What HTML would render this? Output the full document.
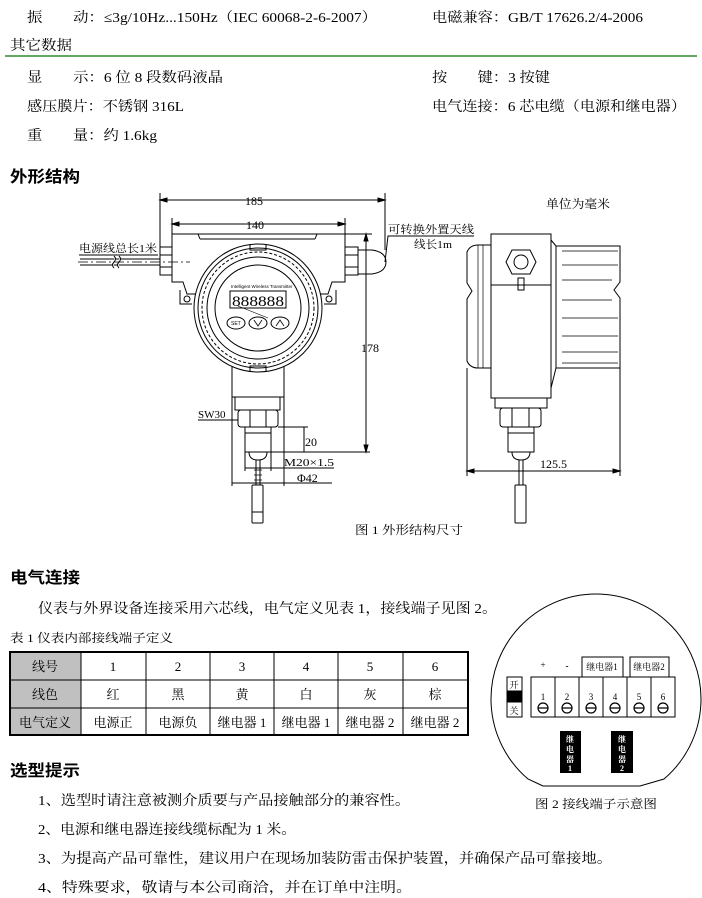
<!DOCTYPE html>
<html><head><meta charset="utf-8">
<style>
html,body{margin:0;padding:0;background:#fff;}
svg{display:block}
text{font-family:"Liberation Serif","Noto Serif CJK SC","Noto Sans CJK SC",serif;fill:#000;}
.s{font-family:"Liberation Sans","Noto Sans CJK SC",sans-serif;}
</style></head><body>
<svg width="702" height="898" viewBox="0 0 702 898" xmlns="http://www.w3.org/2000/svg">
<g font-size="14">
<text x="27" y="22" textLength="350" lengthAdjust="spacingAndGlyphs">振　　动：≤3g/10Hz...150Hz（IEC 60068-2-6-2007）</text>
<text x="432" y="22" textLength="211" lengthAdjust="spacingAndGlyphs">电磁兼容：GB/T 17626.2/4-2006</text>
<text x="10" y="50" textLength="62" lengthAdjust="spacingAndGlyphs">其它数据</text>
<text x="27" y="82" textLength="196" lengthAdjust="spacingAndGlyphs">显　　示：6 位 8 段数码液晶</text>
<text x="432" y="82" textLength="118" lengthAdjust="spacingAndGlyphs">按　　键：3 按键</text>
<text x="27" y="111" textLength="157" lengthAdjust="spacingAndGlyphs">感压膜片：不锈钢 316L</text>
<text x="432" y="111" textLength="254" lengthAdjust="spacingAndGlyphs">电气连接：6 芯电缆（电源和继电器）</text>
<text x="27" y="140" textLength="130" lengthAdjust="spacingAndGlyphs">重　　量：约 1.6kg</text>
</g>
<line x1="5" y1="56" x2="697" y2="56" stroke="#2e8b2e" stroke-width="1.5"/>
<text x="10" y="182" font-size="16" font-weight="bold" class="s" textLength="70" lengthAdjust="spacingAndGlyphs">外形结构</text>

<g stroke="#000" fill="none" stroke-width="1">
<line x1="160" y1="193" x2="160" y2="248"/><line x1="385" y1="193" x2="385" y2="250"/>
<line x1="160" y1="200" x2="385" y2="200"/>
<path d="M160,200 l7,-2 v4z M385,200 l-7,-2 v4z" fill="#000"/>
<line x1="172" y1="218" x2="172" y2="240"/><line x1="345" y1="218" x2="345" y2="240"/>
<line x1="172" y1="224" x2="345" y2="224"/>
<path d="M172,224 l7,-2 v4z M345,224 l-7,-2 v4z" fill="#000"/>
<path d="M172,234 H345 V282 H332 L328,294 H187 L183,282 H172 Z" fill="#fff"/>
<line x1="198" y1="234" x2="200" y2="239"/><line x1="317" y1="234" x2="315" y2="239"/><line x1="200" y1="239" x2="315" y2="239"/>
<circle cx="187" cy="299" r="3"/><circle cx="329" cy="299" r="3"/>
<path d="M180,290 L180,304 L192,304" /><path d="M336,290 L336,304 L324,304"/>
<rect x="160" y="247" width="12" height="28" fill="#fff"/>
<line x1="160" y1="255" x2="172" y2="255"/><line x1="160" y1="267" x2="172" y2="267"/>
<rect x="345" y="247" width="13" height="28" fill="#fff"/>
<line x1="345" y1="255" x2="358" y2="255"/><line x1="345" y1="267" x2="358" y2="267"/>
<path d="M358,250 H372 Q386,252 386,262 Q386,272 372,274 H358"/>
<line x1="80" y1="259" x2="160" y2="259"/><line x1="80" y1="265" x2="160" y2="265"/>
<line x1="78" y1="262" x2="190" y2="262" stroke-dasharray="10,3,2,3" stroke-width="0.8"/>
<path d="M114,256 q3,3 0,6 q-3,3 0,6 M119,256 q3,3 0,6 q-3,3 0,6" fill="#fff"/>
<rect x="232" y="365" width="52" height="32" fill="#fff"/>
<rect x="235" y="397" width="45" height="13"/>
<rect x="238" y="410" width="40" height="17" rx="3"/>
<line x1="250" y1="410" x2="250" y2="427"/><line x1="266" y1="410" x2="266" y2="427"/>
<rect x="245" y="427" width="26" height="25"/>
<line x1="245" y1="433" x2="271" y2="433"/>
<path d="M249,452 q0,8 9,8 q9,0 9,-8"/>
<line x1="256" y1="460" x2="256" y2="485"/><line x1="260" y1="460" x2="260" y2="485"/>
<path d="M254,470 h8 M254,475 h8 M254,480 h8" stroke-width="0.7"/>
<rect x="252" y="485" width="11" height="38" rx="1"/>
<line x1="252" y1="512" x2="263" y2="512"/>
<circle cx="258" cy="308" r="64" fill="#fff"/>
<circle cx="258" cy="308" r="60"/>
<circle cx="258" cy="308" r="56" stroke-dasharray="3,2"/>
<circle cx="258" cy="308" r="51"/>
<circle cx="258" cy="308" r="43"/>
<path d="M250,244 v6 h16 v-6 M250,372 v-6 h16 v6"/>
<rect x="230" y="291" width="56" height="17"/>
<path d="M238,306 l30,12" stroke-width="0.6"/>
<ellipse cx="236" cy="323" rx="9" ry="6"/><ellipse cx="258" cy="323" rx="9" ry="6"/><ellipse cx="280" cy="323" rx="9" ry="6"/>
<path d="M254,320 l4,6 l4,-6 M276,326 l4,-6 l4,6" stroke-width="0.8"/>
<line x1="345" y1="234" x2="372" y2="234"/>
<line x1="366" y1="234" x2="366" y2="452"/>
<path d="M366,234 l-2,7 h4z M366,452 l-2,-7 h4z" fill="#000"/>
<line x1="278" y1="427" x2="308" y2="427"/>
<line x1="271" y1="452" x2="370" y2="452"/>
<line x1="304" y1="427" x2="304" y2="452"/>
<line x1="245" y1="452" x2="245" y2="471"/><line x1="271" y1="452" x2="271" y2="471"/>
<line x1="245" y1="468" x2="334" y2="468"/>
<line x1="232" y1="397" x2="232" y2="486"/><line x1="284" y1="397" x2="284" y2="486"/>
<line x1="232" y1="483" x2="332" y2="483"/>
<line x1="198" y1="420" x2="238" y2="420"/>
<line x1="79" y1="255" x2="158" y2="255"/>
<path d="M385,262 L388,236 H474"/>
</g>
<g font-size="11">
<text x="79" y="252" textLength="78" lengthAdjust="spacingAndGlyphs">电源线总长1米</text>
<text x="388" y="233" textLength="86" lengthAdjust="spacingAndGlyphs">可转换外置天线</text>
<text x="414" y="248" textLength="38" lengthAdjust="spacingAndGlyphs">线长1m</text>
<text x="245" y="205" font-size="12">185</text>
<text x="246" y="229" font-size="12">140</text>
<text x="361" y="352" font-size="12">178</text>
<text x="305" y="446" font-size="12">20</text>
<text x="284" y="466" textLength="50" lengthAdjust="spacingAndGlyphs">M20×1.5</text>
<text x="297" y="482" font-size="12">Φ42</text>
<text x="198" y="418">SW30</text>
<text x="546" y="208" font-size="12" textLength="64" lengthAdjust="spacingAndGlyphs">单位为毫米</text>
<text x="355" y="534" font-size="12" textLength="108" lengthAdjust="spacingAndGlyphs">图 1  外形结构尺寸</text>
<text x="540" y="468" font-size="12">125.5</text>
</g>
<text x="231" y="288" font-size="4.5" class="s">Intelligent Wireless Transmitter</text>
<g font-size="15" class="s" fill="#000"><text x="232" y="306" textLength="52" lengthAdjust="spacingAndGlyphs">888888</text></g>
<text x="231" y="325" font-size="5" class="s">SET</text>

<g stroke="#000" fill="none" stroke-width="1">
<path d="M491,245 H478 Q470,245 467,252 V283 L472,291 L467,299 V361 Q470,368 478,368 H491" fill="#fff"/>
<path d="M478,245 V368 M483,245 V368" stroke-width="0.7"/>
<path d="M556,246 H620 V282 L614,290 L620,298 V368 H556 Z" fill="#fff"/>
<path d="M562,251 H618 M562,265 H618 M562,280 H612 M562,300 H612 M562,318 H618 M562,336 H618 M562,352 H618 M562,363 H618" stroke-width="0.7"/>
<path d="M551,240 L556,246 M551,388 L556,368"/>
<rect x="491" y="234" width="60" height="164" fill="#fff"/>
<line x1="491" y1="285" x2="551" y2="285"/>
<polygon points="512,250 530,250 536,262 530,274 512,274 506,262"/>
<circle cx="521" cy="262" r="7"/>
<rect x="518" y="278" width="6" height="12"/>
<rect x="495" y="398" width="52" height="10"/>
<rect x="500" y="408" width="41" height="19" rx="3"/>
<line x1="512" y1="408" x2="512" y2="427"/><line x1="529" y1="408" x2="529" y2="427"/>
<rect x="508" y="427" width="26" height="25"/>
<line x1="508" y1="433" x2="534" y2="433"/>
<path d="M512,452 q0,8 9,8 q9,0 9,-8"/>
<line x1="519" y1="460" x2="519" y2="485"/><line x1="523" y1="460" x2="523" y2="485"/>
<rect x="515" y="485" width="11" height="38" rx="1"/>
<line x1="467" y1="368" x2="467" y2="476"/><line x1="620" y1="368" x2="620" y2="476"/>
<line x1="467" y1="471" x2="620" y2="471"/>
<path d="M467,471 l7,-2 v4z M620,471 l-7,-2 v4z" fill="#000"/>
</g>

<text x="10" y="583" font-size="16" font-weight="bold" class="s" textLength="70" lengthAdjust="spacingAndGlyphs">电气连接</text>
<text x="38" y="613" font-size="14" textLength="459" lengthAdjust="spacingAndGlyphs">仪表与外界设备连接采用六芯线，电气定义见表 1，接线端子见图 2。</text>
<text x="10" y="642" font-size="12" textLength="163" lengthAdjust="spacingAndGlyphs">表 1  仪表内部接线端子定义</text>
<rect x="10" y="652" width="71" height="83" fill="#c0c0c0"/>
<g stroke="#000" fill="none">
<rect x="10" y="652" width="458" height="83" stroke-width="2"/>
<line x1="10" y1="680" x2="468" y2="680"/><line x1="10" y1="708" x2="468" y2="708"/>
<line x1="81" y1="652" x2="81" y2="735"/><line x1="146" y1="652" x2="146" y2="735"/>
<line x1="210" y1="652" x2="210" y2="735"/><line x1="274" y1="652" x2="274" y2="735"/>
<line x1="338" y1="652" x2="338" y2="735"/><line x1="403" y1="652" x2="403" y2="735"/>
</g>
<g font-size="13" text-anchor="middle">
<text x="45" y="671">线号</text><text x="113" y="671">1</text><text x="178" y="671">2</text><text x="242" y="671">3</text><text x="306" y="671">4</text><text x="370" y="671">5</text><text x="435" y="671">6</text>
<text x="45" y="699">线色</text><text x="113" y="699">红</text><text x="178" y="699">黑</text><text x="242" y="699">黄</text><text x="306" y="699">白</text><text x="370" y="699">灰</text><text x="435" y="699">棕</text>
<text x="45" y="727">电气定义</text><text x="113" y="727">电源正</text><text x="178" y="727">电源负</text><text x="242" y="727">继电器 1</text><text x="306" y="727">继电器 1</text><text x="370" y="727">继电器 2</text><text x="435" y="727">继电器 2</text>
</g>

<g stroke="#000" fill="none">
<path d="M543,786 L528,779 A105,105 0 1 1 664,779 L640,786 Z" stroke-width="1"/>
<rect x="507" y="677" width="15" height="40"/>
<rect x="507" y="691" width="15" height="11" fill="#000"/>
<rect x="531" y="677" width="144" height="40" fill="#fff"/>
<path d="M555,677 v40 M579,677 v40 M603,677 v40 M627,677 v40 M651,677 v40"/>
<rect x="582" y="657" width="41" height="20"/>
<rect x="630" y="657" width="39" height="20"/>
<g stroke-width="1.2">
<circle cx="543" cy="708" r="5"/><circle cx="567" cy="708" r="5"/><circle cx="591" cy="708" r="5"/><circle cx="615" cy="708" r="5"/><circle cx="639" cy="708" r="5"/><circle cx="663" cy="708" r="5"/>
<path d="M538,708 h10 M562,708 h10 M586,708 h10 M610,708 h10 M634,708 h10 M658,708 h10"/>
</g>
</g>
<rect x="560" y="731" width="21" height="42" fill="#000"/>
<rect x="611" y="731" width="22" height="42" fill="#000"/>
<g font-size="9" text-anchor="middle">
<text x="514" y="688">开</text><text x="514" y="714">关</text>
<text x="543" y="668">+</text><text x="567" y="669" font-weight="bold">-</text>
<text x="602" y="670">继电器1</text><text x="649" y="670">继电器2</text>
<text x="543" y="700">1</text><text x="567" y="700">2</text><text x="591" y="700">3</text><text x="615" y="700">4</text><text x="639" y="700">5</text><text x="663" y="700">6</text>
</g>
<g font-size="8" text-anchor="middle" font-weight="bold">
<text x="570" y="742" style="fill:#fff">继</text><text x="570" y="752" style="fill:#fff">电</text><text x="570" y="762" style="fill:#fff">器</text><text x="570" y="771" style="fill:#fff">1</text>
<text x="622" y="742" style="fill:#fff">继</text><text x="622" y="752" style="fill:#fff">电</text><text x="622" y="762" style="fill:#fff">器</text><text x="622" y="771" style="fill:#fff">2</text>
</g>
<text x="535" y="808" font-size="12" textLength="122" lengthAdjust="spacingAndGlyphs">图 2  接线端子示意图</text>

<text x="10" y="776" font-size="16" font-weight="bold" class="s" textLength="70" lengthAdjust="spacingAndGlyphs">选型提示</text>
<g font-size="14">
<text x="38" y="805" textLength="372" lengthAdjust="spacingAndGlyphs">1、选型时请注意被测介质要与产品接触部分的兼容性。</text>
<text x="38" y="834" textLength="258" lengthAdjust="spacingAndGlyphs">2、电源和继电器连接线缆标配为 1 米。</text>
<text x="38" y="863" textLength="574" lengthAdjust="spacingAndGlyphs">3、为提高产品可靠性，建议用户在现场加装防雷击保护装置，并确保产品可靠接地。</text>
<text x="38" y="892" textLength="374" lengthAdjust="spacingAndGlyphs">4、特殊要求，敬请与本公司商洽，并在订单中注明。</text>
</g>
</svg>
</body></html>
